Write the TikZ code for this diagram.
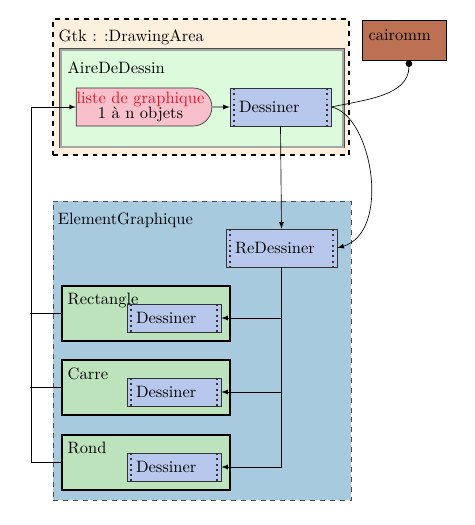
\documentclass[tikz,border=0pt]{standalone}
\usepackage{tikz}
\usetikzlibrary{shapes.misc,arrows.meta}
\definecolor{gtkfill}{HTML}{FDF1DE}
\definecolor{airefill}{HTML}{DCFADC}
\definecolor{listefill}{HTML}{F8C0CA}
\definecolor{listetext}{HTML}{E8102A}
\definecolor{methfill}{HTML}{B8C8EC}
\definecolor{cairofill}{HTML}{BB7152}
\definecolor{elemfill}{HTML}{A8CADF}
\definecolor{classfill}{HTML}{BDE3BD}

\begin{document}
\begin{tikzpicture}[x=0.607pt,y=-0.607pt,>=latex,
  methode/.style={draw=black!80,fill=methfill,inner xsep=5.5pt,align=left,
    path picture={
      \draw[dotted,line width=1.2pt] ([xshift=2.2pt]path picture bounding box.north west)--([xshift=2.2pt]path picture bounding box.south west);
      \draw[dotted,line width=1.2pt] ([xshift=-2.2pt]path picture bounding box.north east)--([xshift=-2.2pt]path picture bounding box.south east);}},
  classe/.style={draw,line width=1.4pt,fill=classfill,minimum width=102pt,minimum height=33.4pt},
  titre/.style={anchor=north west,inner sep=0pt,xshift=4pt,yshift=-7pt}]
  \useasboundingbox (0,0) rectangle (474,525);
  % les cadres
  \node[draw,dashed,line width=1.4pt,fill=gtkfill,minimum width=179.7pt,minimum height=82.6pt,
    label={[titre]north west:{Gtk : :DrawingArea}}] (gtk) at (201,87) {};
  \node[draw=black!70,double=black!35,double distance=1pt,fill=airefill,minimum width=171.2pt,minimum height=58.9pt,
    label={[titre]north west:AireDeDessin}] (aire) at (202,98.5) {};
  \node[draw=black!70,dashed,fill=elemfill,minimum width=180.9pt,minimum height=181.5pt,
    label={[titre,xshift=-1pt]north west:ElementGraphique}] (elem) at (202,350.5) {};
  \node[draw,fill=cairofill,minimum width=51pt,minimum height=24.3pt,
    label={[titre,yshift=1pt]north west:cairomm}] (cairo) at (404,40) {};
  % les noeuds
  \node[draw=black!80,fill=listefill,rounded rectangle,rounded rectangle left arc=none,
    minimum width=84.4pt,minimum height=23.1pt,align=center,inner sep=1pt] (liste) at (140.5,107)
    {\textcolor{listetext}{liste de graphique}\\[-3pt]1 à n objets};
  \node[methode,text width=50.3pt,minimum height=23.1pt] (dess) at (280.5,107) {Dessiner};
  \node[methode,text width=56.4pt,minimum height=23.1pt] (redess) at (281.5,248) {ReDessiner};
  \foreach \n/\t/\y in {rect/Rectangle/313.5,carre/Carre/387.5,rond/Rond/462.5}{
    \node[classe,label={[titre,yshift=2pt]north west:\t}] (\n) at (146,\y) {};
    \node[methode,text width=46.1pt,minimum height=17pt] (d\n) at (174,\y+4.5) {Dessiner};
  }
  % les liens
  \draw[->] (liste) -- (dess);
  \draw[->] (dess.south) -- (redess.north);
  \draw[->] (dess.east) .. controls (372,115) and (392,232) .. (redess.east);
  \draw[{Circle[length=4pt]}-] ([xshift=3pt]cairo.south) to[out=-90,in=12] (dess.east);
  \foreach \n in {rect,carre,rond}
    \draw[->] (redess.south) |- (d\n.east);
  \draw[->] (rond.west) -| (31,107) -- (liste.west);
  \draw (rect.west) -- ++(-31,0);
  \draw (carre.west) -- ++(-31,0);
\end{tikzpicture}
\end{document}
